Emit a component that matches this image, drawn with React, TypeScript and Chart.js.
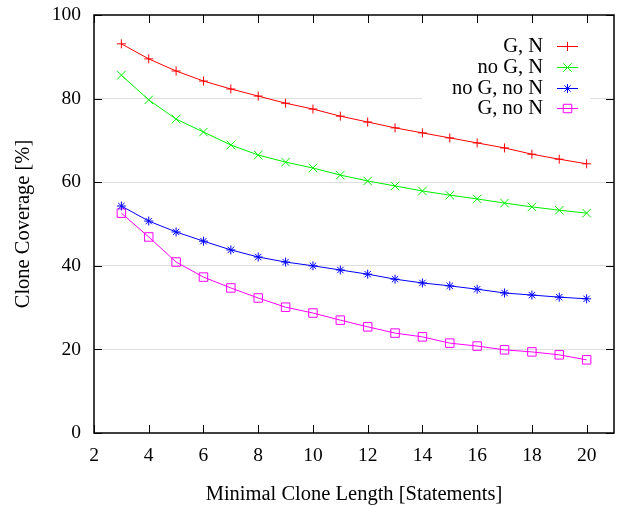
import React, { useEffect, useRef } from 'react';
import { Chart, registerables } from 'chart.js';
import { drawPoint } from 'chart.js/helpers';

Chart.register(...registerables);

const xValues = [3, 4, 5, 6, 7, 8, 9, 10, 11, 12, 13, 14, 15, 16, 17, 18, 19, 20];
const seriesLabels = ['G, N', 'no G, N', 'no G, no N', 'G, no N'];
const gN = [93.1, 89.5, 86.6, 84.2, 82.3, 80.6, 78.9, 77.5, 75.8, 74.4, 73.0, 71.8, 70.6, 69.4, 68.2, 66.7, 65.5, 64.4];
const noGN = [85.6, 79.7, 75.1, 72.0, 68.9, 66.5, 64.8, 63.4, 61.7, 60.3, 59.1, 57.9, 56.9, 56.0, 55.0, 54.1, 53.3, 52.6];
const noGnoN = [54.3, 50.7, 48.1, 45.9, 43.8, 42.1, 40.9, 40.0, 39.0, 38.0, 36.8, 35.9, 35.2, 34.4, 33.5, 33.0, 32.5, 32.1];
const GnoN = [52.6, 46.9, 40.9, 37.3, 34.7, 32.3, 30.1, 28.7, 27.0, 25.4, 23.9, 23.0, 21.5, 20.8, 19.9, 19.4, 18.7, 17.5];
const xAxisTitle = 'Minimal Clone Length [Statements]';
const yAxisTitle = 'Clone Coverage [%]';

const FONT = 'Liberation Serif';

const frameAndTicks = {
  id: 'frameAndTicks',
  afterDatasetsDraw(chart: any) {
    const { ctx, chartArea: a, scales } = chart;
    ctx.save();
    ctx.strokeStyle = '#000';
    ctx.lineWidth = 1;
    const tl = 8;
    ctx.beginPath();
    scales.x.ticks.forEach((t: any) => {
      const px = Math.round(scales.x.getPixelForValue(t.value)) + 0.5;
      ctx.moveTo(px, a.bottom);
      ctx.lineTo(px, a.bottom - tl);
      ctx.moveTo(px, a.top);
      ctx.lineTo(px, a.top + tl);
    });
    scales.y.ticks.forEach((t: any) => {
      const py = Math.round(scales.y.getPixelForValue(t.value)) + 0.5;
      ctx.moveTo(a.left, py);
      ctx.lineTo(a.left + tl, py);
      ctx.moveTo(a.right, py);
      ctx.lineTo(a.right - tl, py);
    });
    ctx.stroke();
    ctx.lineWidth = 1.5;
    ctx.strokeRect(a.left, a.top, a.right - a.left, a.bottom - a.top);
    ctx.restore();
  },
};

const gnuLegend = {
  id: 'gnuLegend',
  beforeDatasetsDraw(chart: any) {
    const { ctx } = chart;
    ctx.save();
    ctx.fillStyle = '#fff';
    ctx.fillRect(422, 34, 168, 84);
    ctx.restore();
  },
  afterDatasetsDraw(chart: any) {
    const { ctx } = chart;
    const rows = [46, 67, 88, 108];
    ctx.save();
    chart.data.datasets.forEach((ds: any, i: number) => {
      const y = rows[i];
      ctx.fillStyle = '#000';
      ctx.font = `20.5px "${FONT}"`;
      ctx.textAlign = 'right';
      ctx.textBaseline = 'middle';
      ctx.fillText(ds.label, 543, y + 1);
      ctx.strokeStyle = ds.borderColor;
      ctx.lineWidth = 1;
      ctx.beginPath();
      ctx.moveTo(557, y + 0.5);
      ctx.lineTo(578, y + 0.5);
      ctx.stroke();
      ctx.fillStyle = 'rgba(0,0,0,0)';
      drawPoint(ctx, { pointStyle: ds.pointStyle, radius: ds.pointRadius, borderWidth: 1, rotation: 0 }, 567.5, y + 0.5);
    });
    ctx.restore();
  },
};

export default function App() {
  const ref = useRef<HTMLCanvasElement>(null);
  useEffect(() => {
    document.body.style.margin = '0';
    const mk = (label: string, data: number[], color: string, style: string, r: number) => ({
      label,
      data: data.map((v, i) => ({ x: xValues[i], y: v })),
      borderColor: color,
      backgroundColor: color,
      borderWidth: 1,
      pointStyle: style,
      pointRadius: r,
      pointBorderWidth: 1,
      pointBackgroundColor: 'rgba(0,0,0,0)',
      pointBorderColor: color,
      tension: 0,
    });
    const chart = new Chart(ref.current!, {
      type: 'line',
      data: {
        datasets: [
          mk(seriesLabels[0], gN, '#ff0000', 'cross', 4.5),
          mk(seriesLabels[1], noGN, '#00ee00', 'crossRot', 6),
          mk(seriesLabels[2], noGnoN, '#0000ff', 'star', 4.5),
          mk(seriesLabels[3], GnoN, '#ff00ff', 'rect', 6),
        ] as any,
      },
      options: {
        animation: false,
        responsive: false,
        layout: { autoPadding: false, padding: { top: 15, right: 4, left: 0, bottom: 0 } },
        plugins: { legend: { display: false }, tooltip: { enabled: false } },
        scales: {
          x: {
            type: 'linear',
            min: 2,
            max: 21,
            grid: { display: false, drawTicks: false },
            border: { display: false },
            ticks: { stepSize: 2, includeBounds: false, padding: 11, color: '#000', font: { family: FONT, size: 19.5 } },
            title: { display: true, text: xAxisTitle, color: '#000', font: { family: FONT, size: 20.5, lineHeight: 1.0 }, padding: { top: 0, bottom: 1 } },
            afterFit: (s: any) => { s.height = 73; s.paddingLeft = 0; s.paddingRight = 0; },
          },
          y: {
            type: 'linear',
            min: 0,
            max: 100,
            grid: {
              drawTicks: false,
              color: (c: any) => (c.tick && (c.tick.value === 0 || c.tick.value === 100) ? 'rgba(0,0,0,0)' : '#dedede'),
              lineWidth: 1,
            },
            border: { display: false },
            ticks: { stepSize: 20, padding: 13, color: '#000', font: { family: FONT, size: 19.5 } },
            title: { display: true, text: yAxisTitle, color: '#000', font: { family: FONT, size: 20.5 }, padding: { top: 11, bottom: 0 } },
            afterFit: (s: any) => { s.width = 94; s.paddingTop = 0; s.paddingBottom = 0; },
          },
        },
      },
      plugins: [frameAndTicks, gnuLegend],
    });
    return () => chart.destroy();
  }, []);
  return (
    <div style={{ width: 618, height: 506 }}>
      <canvas ref={ref} width={618} height={506} style={{ display: 'block', width: 618, height: 506 }} />
    </div>
  );
}
